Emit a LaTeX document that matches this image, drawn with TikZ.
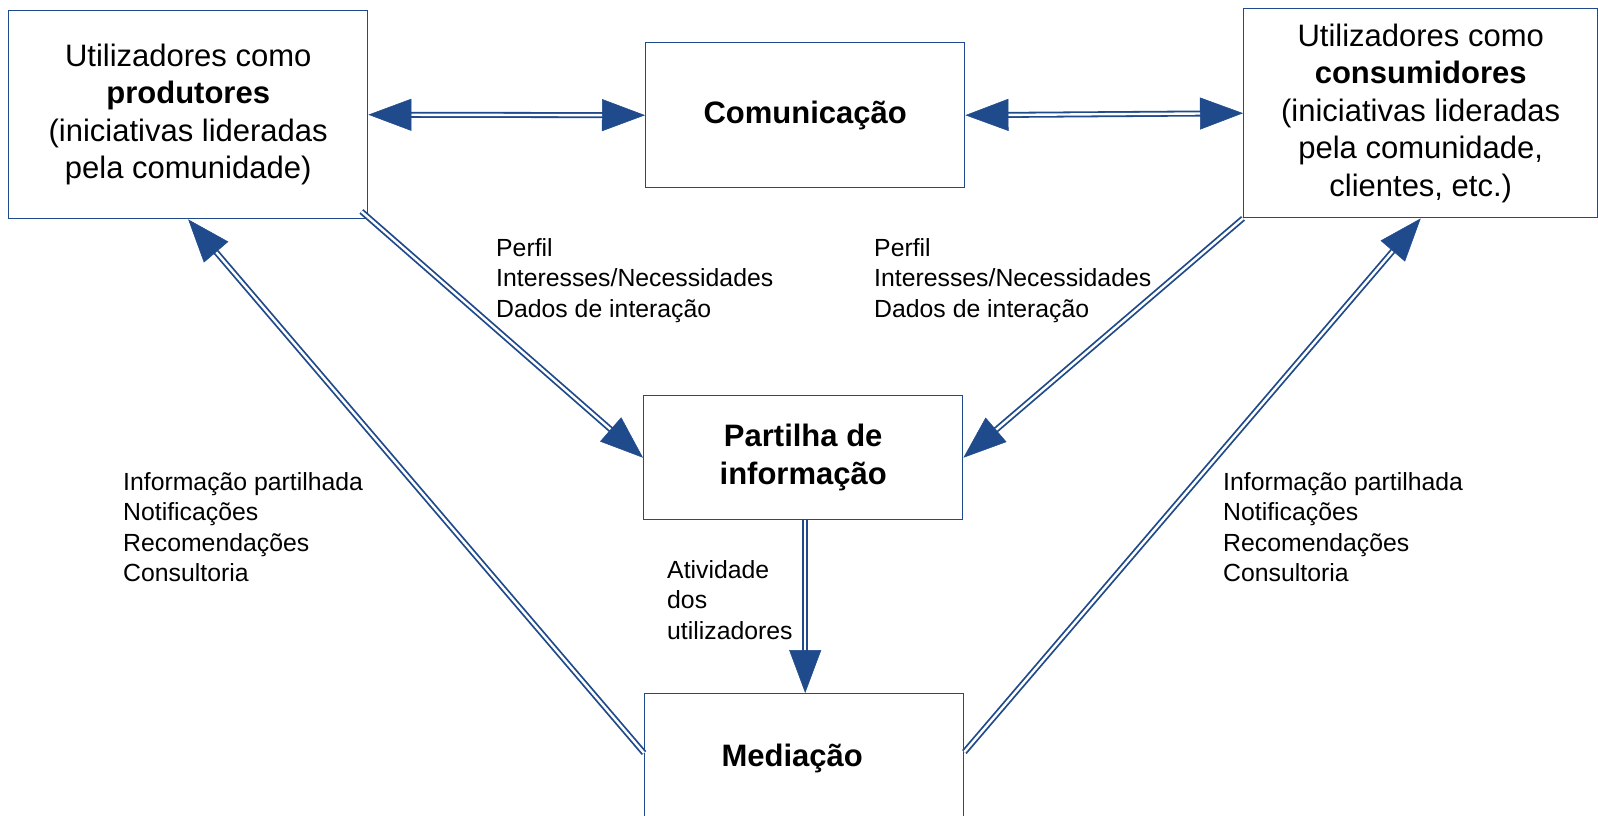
\documentclass[tikz,border=0pt]{standalone}
\usepackage{fontspec}
\setmainfont{Liberation Sans}
\usetikzlibrary{arrows.meta,calc}
\definecolor{acol}{HTML}{1F4A8B}
\begin{document}
\begin{tikzpicture}[x=1pt,y=-1pt,
  box/.style={draw=acol, line width=1.4pt, fill=white, inner sep=0pt, align=center, anchor=north west, font=\fontsize{31}{37.5}\selectfont},
  lbl/.style={inner sep=0pt, align=left, anchor=north west, font=\fontsize{24.8}{30.5}\selectfont},
  dline/.style={draw=acol, double=white, line width=1.8pt, double distance=2.4pt},
  headtip/.style={draw=acol, fill=acol, line width=0.5pt, -{Triangle[length=43pt,width=32pt]}}]
\fill[white] (0,0) rectangle (1598,815);
\useasboundingbox (0,0) rectangle (1598,815);
% boxes
\node[box, minimum width=359pt, minimum height=208pt] (L) at (8,10) {Utilizadores como\\\textbf{produtores}\\(iniciativas lideradas\\pela comunidade)};
\node[box, minimum width=319pt, minimum height=145pt] (C) at (645,42) {\textbf{Comunicação}};
\node[box, minimum width=354pt, minimum height=209pt] (R) at (1243,8) {Utilizadores como\\\textbf{consumidores}\\(iniciativas lideradas\\pela comunidade,\\clientes, etc.)};
\node[box, minimum width=319pt, minimum height=124pt] (P) at (643,395) {\textbf{Partilha de}\\\textbf{informação}};
\node[box, minimum width=319pt, minimum height=130pt] (M) at (644,693) {\textbf{Mediação}\hspace*{24pt}};
% labels
\node[lbl] (t1) at (496,238) {Perfil\\Interesses/Necessidades\\Dados de interação};
\node[lbl] (t2) at (874,238) {Perfil\\Interesses/Necessidades\\Dados de interação};
\node[lbl] (t3) at (123,472) {Informação partilhada\\Notificações\\Recomendações\\Consultoria};
\node[lbl] (t4) at (1223,472) {Informação partilhada\\Notificações\\Recomendações\\Consultoria};
\node[lbl] (t5) at (667,560) {Atividade\\dos\\utilizadores};
% connector end points
\coordinate (Ls) at ($(L.south east)+(-7,-8)$);
\coordinate (Ml) at ($(M.north west)+(0,60)$);
\coordinate (Mr) at ($(M.north east)+(0,59)$);
\coordinate (Ps) at ($(P.south)+(2,0)$);
\coordinate (Mn) at (Ps |- M.north);
% horizontal double-headed
\draw[dline, shorten >=42pt, shorten <=42pt] (C.west) -- (L.east);
\draw[headtip] ($(L.east)!43pt!(C.west)$) -- (L.east);
\draw[headtip] ($(C.west)!43pt!(L.east)$) -- (C.west);
\draw[dline, shorten >=42pt, shorten <=42pt] (C.east) -- (R.west);
\draw[headtip] ($(R.west)!43pt!(C.east)$) -- (R.west);
\draw[headtip] ($(C.east)!43pt!(R.west)$) -- (C.east);
% diagonals to Partilha
\draw[dline, shorten >=42pt] (Ls) -- (P.west);
\draw[headtip] ($(P.west)!43pt!(Ls)$) -- (P.west);
\draw[dline, shorten >=42pt] (R.south west) -- (P.east);
\draw[headtip] ($(P.east)!43pt!(R.south west)$) -- (P.east);
% vertical
\draw[dline, shorten >=42pt] (Ps) -- (Mn);
\draw[headtip] ($(Mn)!43pt!(Ps)$) -- (Mn);
% long arrows from Mediacao
\draw[dline, shorten >=42pt] (Ml) -- (L.south);
\draw[headtip] ($(L.south)!43pt!(Ml)$) -- (L.south);
\draw[dline, shorten >=42pt] (Mr) -- (R.south);
\draw[headtip] ($(R.south)!43pt!(Mr)$) -- (R.south);
\end{tikzpicture}
\end{document}
